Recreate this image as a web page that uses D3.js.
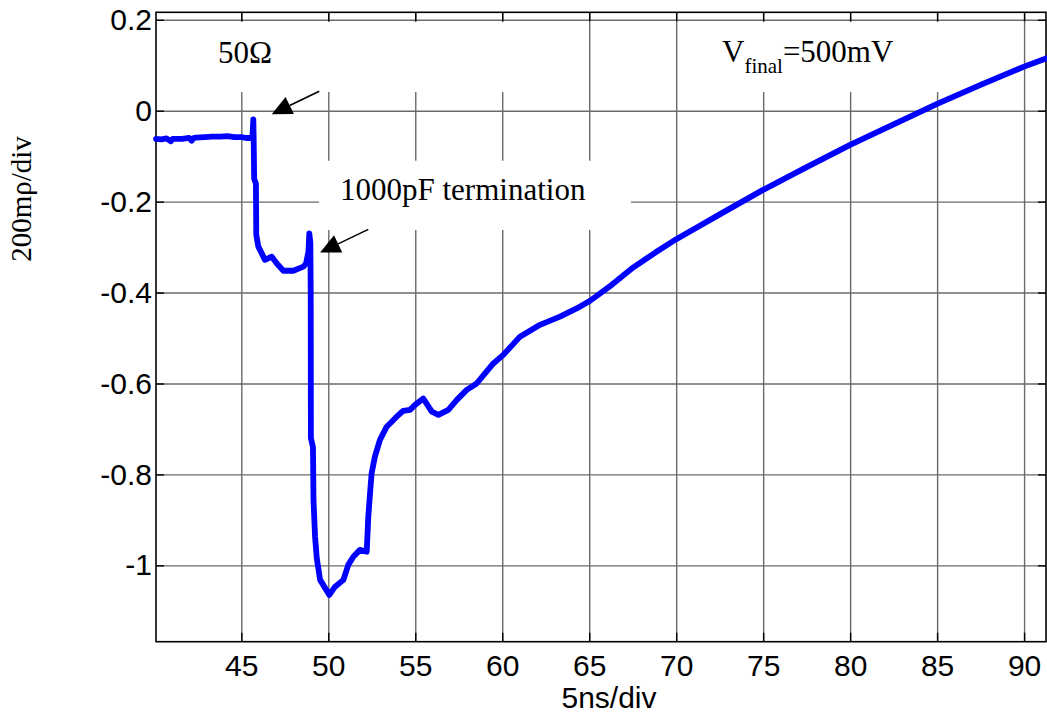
<!DOCTYPE html>
<html>
<head>
<meta charset="utf-8">
<script src="https://cdn.jsdelivr.net/npm/d3@7"></script>
<style>
  html, body { margin: 0; padding: 0; background: #fff; }
  svg { display: block; }
</style>
</head>
<body>
<svg id="chart" width="1047" height="715"></svg>
<script>
// Waveform: time (ns) and reflected signal (ρ)
const timeNs = [
  40.10, 40.40, 40.70, 40.95, 41.05, 41.20, 41.60, 42.00, 42.15, 42.25, 42.40,
  42.90, 43.30, 43.80, 44.20, 44.60, 45.00, 45.30, 45.50, 45.64,
  45.69, 45.71, 45.74, 45.84, 45.86, 45.98, 46.36, 46.75, 47.04, 47.42,
  47.99, 48.57, 48.72, 48.86, 48.91, 48.97, 48.99, 49.00, 49.12, 49.15, 49.24,
  49.34, 49.53, 50.06, 50.39, 50.87, 51.15, 51.44, 51.82, 52.21, 52.30,
  52.40, 52.49, 52.68, 52.97, 53.36, 53.93, 54.31, 54.70, 54.99, 55.46,
  55.95, 56.33, 56.90, 57.39, 57.96, 58.53, 59.01, 59.49, 60.06, 61.02,
  62.17, 63.32, 64.28, 65.05, 66.30, 67.52, 68.80, 70.03, 71.26, 72.50,
  75.00, 77.50, 80.00, 82.50, 85.00, 87.50, 90.00, 91.26
];
const signal = [
  -0.062, -0.063, -0.061, -0.067, -0.062, -0.062, -0.062, -0.060, -0.066, -0.060, -0.059,
  -0.058, -0.057, -0.057, -0.056, -0.058, -0.058, -0.060, -0.060, -0.058,
  -0.019, -0.060, -0.150, -0.160, -0.273, -0.299, -0.328, -0.321, -0.336, -0.352,
  -0.352, -0.343, -0.336, -0.310, -0.270, -0.290, -0.400, -0.720, -0.740, -0.856, -0.937,
  -0.985, -1.032, -1.065, -1.047, -1.032, -0.999, -0.981, -0.966, -0.970, -0.893,
  -0.842, -0.798, -0.761, -0.724, -0.695, -0.673, -0.660, -0.658, -0.647, -0.633,
  -0.662, -0.669, -0.658, -0.636, -0.614, -0.600, -0.578, -0.556, -0.537, -0.497,
  -0.471, -0.453, -0.435, -0.418, -0.383, -0.345, -0.312, -0.282, -0.255, -0.228,
  -0.174, -0.124, -0.075, -0.030, 0.015, 0.057, 0.097, 0.115
];

const xTicks = [45, 50, 55, 60, 65, 70, 75, 80, 85, 90];
const yTicks = [0.2, 0, -0.2, -0.4, -0.6, -0.8, -1];
const yTickLabels = ["0.2", "0", "-0.2", "-0.4", "-0.6", "-0.8", "-1"];

// Annotation arrows: [tailTime, tailSignal, tipTime, tipSignal]
const arrows = [
  [49.48, 0.043, 46.75, -0.008],
  [52.30, -0.261, 49.53, -0.312]
];

const svg = d3.select("#chart");
const L = 156, R = 1046, T = 12.3, B = 641.7;

const x = d3.scaleLinear().domain([40.096, 91.26]).range([L, R]);
const y = d3.scaleLinear().domain([-1.168, 0.2165]).range([B, T]);

// Grid
const grid = svg.append("g").attr("class", "grid");
grid.append("g")
  .attr("transform", `translate(0,${B})`)
  .call(d3.axisBottom(x).tickValues(xTicks).tickSize(-(B - T)).tickFormat(""))
  .call(g => g.select(".domain").remove());
grid.append("g")
  .attr("transform", `translate(${L},0)`)
  .call(d3.axisLeft(y).tickValues(yTicks).tickSize(-(R - L)).tickFormat(""))
  .call(g => g.select(".domain").remove());
grid.selectAll("line").attr("stroke", "#6a6a6a").attr("stroke-width", 1.4);

// Text backgrounds that hide the grid
const boxes = svg.append("g").attr("fill", "#fff");
boxes.append("rect").attr("x", 192).attr("y", 22).attr("width", 352).attr("height", 70);
boxes.append("rect").attr("x", 700).attr("y", 22).attr("width", 280).attr("height", 70);
boxes.append("rect").attr("x", 319).attr("y", 160.7).attr("width", 312).attr("height", 69.3);

// Inward ticks on all four sides
const tickG = svg.append("g").attr("class", "ticks");
tickG.append("g").attr("transform", `translate(0,${T})`)
  .call(d3.axisTop(x).tickValues(xTicks).tickSize(-9).tickFormat(""));
tickG.append("g").attr("transform", `translate(0,${B})`)
  .call(d3.axisBottom(x).tickValues(xTicks).tickSize(-9).tickFormat(""));
tickG.append("g").attr("transform", `translate(${L},0)`)
  .call(d3.axisLeft(y).tickValues(yTicks).tickSize(-8).tickFormat(""));
tickG.append("g").attr("transform", `translate(${R},0)`)
  .call(d3.axisRight(y).tickValues(yTicks).tickSize(-8).tickFormat(""));
tickG.selectAll(".domain").remove();
tickG.selectAll("line").attr("stroke", "#000").attr("stroke-width", 1.4);

// Tick labels
const fontSans = "'Liberation Sans', Arial, Helvetica, sans-serif";
const xLab = svg.append("g").attr("transform", `translate(0,${B})`)
  .call(d3.axisBottom(x).tickValues(xTicks).tickSize(0).tickPadding(13.5).tickFormat(d3.format("d")));
xLab.select(".domain").remove();
xLab.selectAll("text").attr("font-family", fontSans).attr("font-size", 30).attr("fill", "#000");

const yLab = svg.append("g").attr("transform", `translate(${L},0)`)
  .call(d3.axisLeft(y).tickValues(yTicks).tickSize(0).tickPadding(4)
    .tickFormat((d, i) => yTickLabels[i]));
yLab.select(".domain").remove();
yLab.selectAll("text").attr("font-family", fontSans).attr("font-size", 30).attr("fill", "#000");

// Frame
svg.append("rect").attr("x", L).attr("y", T).attr("width", R - L).attr("height", B - T)
  .attr("fill", "none").attr("stroke", "#000").attr("stroke-width", 1.6);

// Signal trace
const line = d3.line().x((d, i) => x(timeNs[i])).y(d => y(d));
svg.append("path")
  .datum(signal)
  .attr("d", line)
  .attr("fill", "none")
  .attr("stroke", "#0000ff")
  .attr("stroke-width", 5.8)
  .attr("stroke-linejoin", "round")
  .attr("stroke-linecap", "round");

// Arrows
const headLen = 20, headHalf = 9.5;
arrows.forEach(([t0, v0, t1, v1]) => {
  const x0 = x(t0), y0 = y(v0), x1 = x(t1), y1 = y(v1);
  const dx = x1 - x0, dy = y1 - y0, len = Math.hypot(dx, dy);
  const ux = dx / len, uy = dy / len;
  const bx = x1 - ux * headLen, by = y1 - uy * headLen;
  svg.append("line").attr("x1", x0).attr("y1", y0).attr("x2", bx).attr("y2", by)
    .attr("stroke", "#000").attr("stroke-width", 1.6);
  svg.append("path")
    .attr("d", `M${x1},${y1}L${bx - uy * headHalf},${by + ux * headHalf}L${bx + uy * headHalf},${by - ux * headHalf}Z`)
    .attr("fill", "#000");
});

// Annotations
const fontSerif = "'Liberation Serif', 'Times New Roman', Times, serif";
svg.append("text").attr("x", 218).attr("y", 63).attr("font-family", fontSerif)
  .attr("font-size", 31).text("50Ω");
const vf = svg.append("text").attr("x", 722).attr("y", 62).attr("font-family", fontSerif)
  .attr("font-size", 31);
vf.append("tspan").text("V");
vf.append("tspan").attr("font-size", 21).attr("dy", 11).text("final");
vf.append("tspan").attr("dy", -11).text("=500mV");
svg.append("text").attr("x", 340).attr("y", 199.5).attr("font-family", fontSerif)
  .attr("font-size", 31).text("1000pF termination");

// Axis titles
svg.append("text").attr("x", 609).attr("y", 708).attr("text-anchor", "middle")
  .attr("font-family", fontSans).attr("font-size", 30).text("5ns/div");
svg.append("text").attr("transform", "translate(31,199) rotate(-90)")
  .attr("text-anchor", "middle").attr("font-family", fontSerif).attr("font-size", 29)
  .text("200mρ/div");
</script>
</body>
</html>
